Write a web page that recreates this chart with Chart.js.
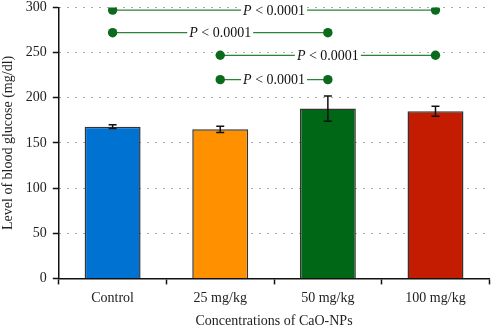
<!DOCTYPE html>
<html>
<head>
<meta charset="utf-8">
<script src="https://cdn.jsdelivr.net/npm/chart.js@4.4.1/dist/chart.umd.min.js"></script>
<style>
  html, body { margin: 0; padding: 0; background: #fff; overflow: hidden; }
  body { width: 491px; height: 326px; position: relative; }
  #wrap { position: absolute; left: 0; top: -7px; width: 494px; height: 337px; }
</style>
</head>
<body>
<div id="wrap"><canvas id="chart"></canvas></div>
<script>
const groups = ["Control", "25 mg/kg", "50 mg/kg", "100 mg/kg"];
const glucose = [168, 165, 188, 185];
const glucoseErr = [2, 3.5, 14, 5.5];
const barColors = ["#0072d2", "#ff9100", "#006717", "#c41c00"];

// significance brackets: from group, to group, height on the y scale
const sigFrom = ["Control", "Control", "25 mg/kg", "25 mg/kg"];
const sigTo = ["100 mg/kg", "50 mg/kg", "100 mg/kg", "50 mg/kg"];
const sigLevel = [297, 272, 247, 220];
const sigText = "< 0.0001";

const yTicks = [0, 50, 100, 150, 200, 250, 300];

const SERIF = "'Liberation Serif', 'Times New Roman', serif";
const SIG_GREEN = "#0b6a1c";

// error bars + "P < 0.0001" labels, positioned through the scales
const overlays = {
    id: "overlays",
    afterDatasetsDraw(chart) {
        const { ctx, scales: { x, y } } = chart;
        const meta = chart.getDatasetMeta(0);
        ctx.save();
        ctx.strokeStyle = "#111";
        ctx.lineWidth = 1.5;
        meta.data.forEach((bar, i) => {
            const hi = y.getPixelForValue(glucose[i] + glucoseErr[i]);
            const lo = y.getPixelForValue(glucose[i] - glucoseErr[i]);
            ctx.beginPath();
            ctx.moveTo(bar.x, hi); ctx.lineTo(bar.x, lo);
            ctx.moveTo(bar.x - 4, hi); ctx.lineTo(bar.x + 4, hi);
            ctx.moveTo(bar.x - 4, lo); ctx.lineTo(bar.x + 4, lo);
            ctx.stroke();
        });

        ctx.textBaseline = "middle";
        sigLevel.forEach((lvl, i) => {
            const x0 = x.getPixelForValue(groups.indexOf(sigFrom[i]));
            const x1 = x.getPixelForValue(groups.indexOf(sigTo[i]));
            const cx = (x0 + x1) / 2;
            const cy = y.getPixelForValue(lvl);
            ctx.font = `italic 14px ${SERIF}`;
            const wP = ctx.measureText("P").width;
            ctx.font = `14px ${SERIF}`;
            const wRest = ctx.measureText(" " + sigText).width;
            const w = wP + wRest;
            ctx.fillStyle = "#fff";
            ctx.fillRect(cx - w / 2 - 2, cy - 8, w + 4, 16);
            ctx.fillStyle = "#111";
            ctx.textAlign = "left";
            ctx.font = `italic 14px ${SERIF}`;
            ctx.fillText("P", cx - w / 2, cy + 1);
            ctx.font = `14px ${SERIF}`;
            ctx.fillText(" " + sigText, cx - w / 2 + wP, cy + 1);
        });
        ctx.restore();
    }
};

const sigSets = sigLevel.map((lvl, i) => ({
    type: "line",
    data: [{ x: sigFrom[i], y: lvl }, { x: sigTo[i], y: lvl }],
    borderColor: "#2a8438",
    borderWidth: 1.3,
    pointRadius: 4.7,
    pointBackgroundColor: SIG_GREEN,
    pointBorderColor: SIG_GREEN,
    pointBorderWidth: 0,
    order: 0,
}));

new Chart(document.getElementById("chart"), {
    type: "bar",
    data: {
        labels: groups,
        datasets: [{
            data: glucose,
            backgroundColor: barColors,
            borderColor: "#333",
            borderWidth: 1.5,
            categoryPercentage: 1,
            barPercentage: 0.52,
            order: 1,
        }, ...sigSets],
    },
    options: {
        responsive: true, maintainAspectRatio: false, animation: false,
        layout: { padding: 0 },
        plugins: { legend: { display: false }, tooltip: { enabled: false } },
        scales: {
            x: {
                offset: true,
                grid: { offset: true, drawOnChartArea: false, drawTicks: true,
                    tickLength: 6, tickWidth: 1.5, color: "#111" },
                border: { color: "#111", width: 1.5 },
                ticks: { color: "#222", font: { family: SERIF, size: 14 }, padding: 6 },
                title: { display: true, text: "Concentrations of CaO-NPs", color: "#222",
                    font: { family: SERIF, size: 14 }, padding: { top: 0, bottom: 0 } },
            },
            y: {
                min: 0, max: 300,
                afterBuildTicks: s => { s.ticks = yTicks.map(v => ({ value: v })); },
                grid: {
                    color: c => c.tick && c.tick.value === 0 ? "rgba(0,0,0,0)" : "#555",
                    lineWidth: 1, tickLength: 6, tickColor: "#111", tickWidth: 1.5,
                    drawTicks: true,
                },
                border: { color: "#111", width: 1.5, dash: [1, 7] },
                ticks: { color: "#222", font: { family: SERIF, size: 14 }, padding: 6 },
                title: { display: true, text: "Level of blood glucose (mg/dl)", color: "#222",
                    font: { family: SERIF, size: 14 }, padding: { top: 0, bottom: 3 } },
            },
        },
    },
    plugins: [overlays],
});
</script>
</body>
</html>
